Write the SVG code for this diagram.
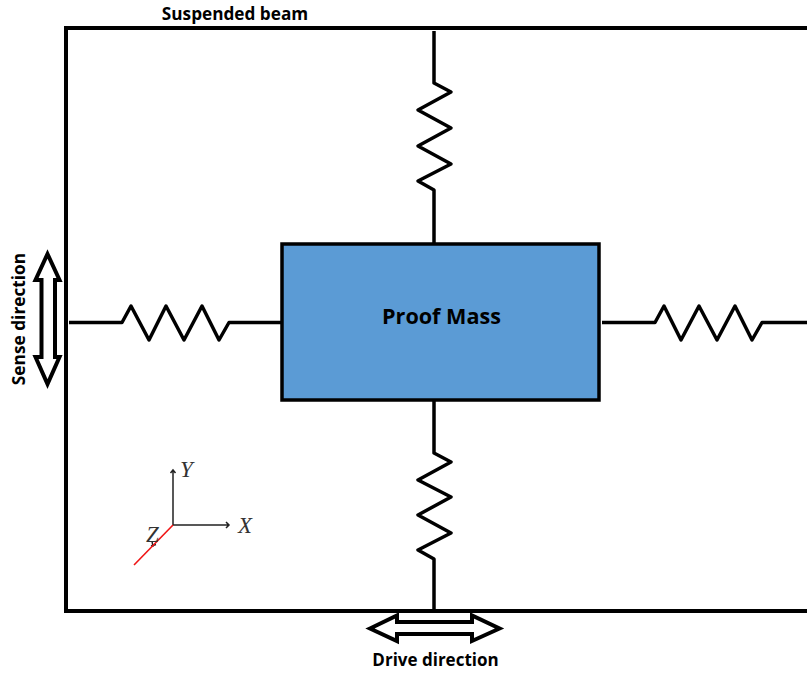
<svg xmlns="http://www.w3.org/2000/svg" width="807" height="675" viewBox="0 0 807 675">
<style>
.w{fill:none;stroke:#000;stroke-width:3.5;stroke-linejoin:round}
.ar{fill:#fff;stroke:#000;stroke-width:4;stroke-linejoin:miter}
.ax{fill:none;stroke:#222;stroke-width:1.5}
.l{font-family:"Open Sans","Noto Sans",sans-serif;font-weight:700;fill:#000}
.m{font-family:"Liberation Serif",serif;font-style:italic;font-size:23px;fill:#333}
</style>
<rect width="807" height="675" fill="#fff"/>
<g id="frame"><path d="M807 28H66V611H807" fill="none" stroke="#000" stroke-width="4"/></g>
<g id="connectors">
<path id="spring-top" class="w" d="M434 31V83L451 92L418 110L451 128L418 146L451 164L418 181L434 190V243"/>
<path id="spring-bottom" class="w" d="M434 400V453L451 462L418 480L451 497L418 515L451 533L418 550L434 559V609"/>
<path id="spring-left" class="w" d="M69 322.500H122L131 306L149 340L166 306L184 340L202 306L219 340L229 322.500H281"/>
<path id="spring-right" class="w" d="M602 322.500H655L664 306L681 340L699 306L717 340L735 306L752 340L762 322.500H807"/>
</g>
<g id="proof-mass">
<rect x="282" y="244" width="317" height="156" fill="#5B9BD5" stroke="#000" stroke-width="3.500"/>
<text class="l" x="441.500" y="324" font-size="21.600" text-anchor="middle">Proof Mass</text>
</g>
<g id="sense-arrow">
<path class="ar" d="M47.500 254L59.500 280H55V357H59.500L47.500 384L35.500 357H41.500V280H35.500Z"/>
<text class="l" transform="translate(24.500 319) rotate(-90)" font-size="17.300" text-anchor="middle">Sense direction</text>
</g>
<g id="drive-arrow">
<path class="ar" d="M370 628.500L397 615.500V622H472V615.500L499.500 628.500L472 641V634H397V641Z"/>
<text class="l" x="435.500" y="666" font-size="17" text-anchor="middle">Drive direction</text>
</g>
<g id="beam-label"><text class="l" x="235" y="20" font-size="17.200" text-anchor="middle">Suspended beam</text></g>
<g id="axes">
<path class="ax" d="M173 525V470M170.500 473L173 470L175.500 473"/>
<path class="ax" d="M173 525H229M226 522L229 525L226 528"/>
<path class="ax" d="M151 546L156 544.500M152 541L153 547"/>
<path d="M173 525L134 565" fill="none" stroke="#f01414" stroke-width="1.600"/>
<text class="m" x="180" y="477">Y</text>
<text class="m" x="238" y="533">X</text>
<text class="m" x="146" y="542">Z</text>
</g>
</svg>
